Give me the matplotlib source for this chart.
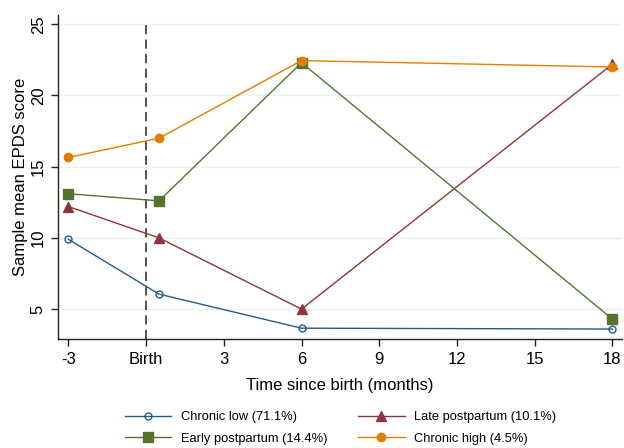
import matplotlib
matplotlib.use("Agg")
import matplotlib.pyplot as plt

plt.rcParams["font.family"] = ["Liberation Sans", "DejaVu Sans"]

# time points (months since birth); the birth visit sits at 0.5
months = [-3, 0.5, 6, 18]
chronic_low = [9.9, 6.05, 3.66, 3.6]
late_pp = [12.2, 10.0, 5.0, 22.2]
early_pp = [13.1, 12.6, 22.3, 4.3]
chronic_high = [15.65, 17.0, 22.45, 22.0]

xticks = [-3, 0, 3, 6, 9, 12, 15, 18]
xticklabels = ["-3", "Birth", "3", "6", "9", "12", "15", "18"]
yticks = [5, 10, 15, 20, 25]

fig = plt.figure(figsize=(6.24, 4.48), dpi=100)
ax = fig.add_axes([0.0934, 0.2433, 0.9029, 0.7232])

for y in yticks:
	ax.axhline(y, color="#eaf2f3", lw=1.0, zorder=0)

ax.axvline(0, color="#222222", lw=1.1, ls=(0, (6, 3.5)), ymax=0.975, zorder=1)

lw = 1.0
h1, = ax.plot(months, chronic_low, color="#245a8a", lw=lw, marker="o", ms=5,
	mfc="none", mew=1.0, label="Chronic low (71.1%)")
h2, = ax.plot(months, late_pp, color="#90353b", lw=lw, marker="^", ms=7.5,
	label="Late postpartum (10.1%)")
h3, = ax.plot(months, early_pp, color="#55752f", lw=lw, marker="s", ms=6.5,
	label="Early postpartum (14.4%)")
h4, = ax.plot(months, chronic_high, color="#e37e00", lw=lw, marker="o", ms=6,
	label="Chronic high (4.5%)")

ax.set_xlim(-3.39, 18.36)
ax.set_ylim(2.9, 25.65)
ax.set_xticks(xticks)
ax.set_xticklabels(xticklabels)
ax.set_yticks(yticks)
for lab in ax.get_yticklabels():
	lab.set_rotation(90)
	lab.set_va("center")

for s in ["top", "right"]:
	ax.spines[s].set_visible(False)
for s in ["left", "bottom"]:
	ax.spines[s].set_color("#222222")
	ax.spines[s].set_linewidth(1.0)
ax.tick_params(direction="out", length=5, width=1.0, color="#222222",
	labelsize=12, pad=4)

ax.set_xlabel("Time since birth (months)", fontsize=12, labelpad=8)
ax.set_ylabel("Sample mean EPDS score", fontsize=12, labelpad=2)

legkw = dict(loc="upper left", frameon=False, fontsize=9.3, handlelength=3.6,
	handletextpad=0.75, labelspacing=0.75, borderpad=0, borderaxespad=0)
fig.legend([h1, h3], [h1.get_label(), h3.get_label()],
	bbox_to_anchor=(0.2, 1 - 411 / 448), **legkw)
fig.legend([h2, h4], [h2.get_label(), h4.get_label()],
	bbox_to_anchor=(0.574, 1 - 411 / 448), **legkw)

fig.savefig("out.png", dpi=100)
